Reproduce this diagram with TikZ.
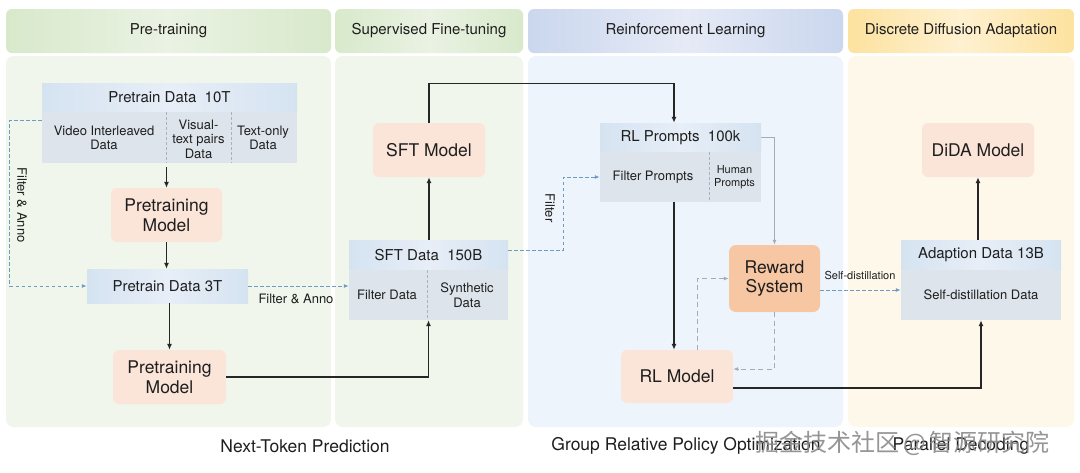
\documentclass[tikz,border=0pt]{standalone}
\usepackage{fontspec}
\setmainfont{TeX Gyre Heros}
\newfontfamily\cjkfont{Noto Sans CJK SC}
\usetikzlibrary{arrows.meta,calc}
\newcommand{\fsz}[2]{\fontsize{#1}{#2}\selectfont}
\definecolor{txt}{HTML}{1E1E1E}
\definecolor{pg1}{HTML}{D8E9CB}
\definecolor{pg2}{HTML}{EAF2E3}
\definecolor{rb1}{HTML}{CAD7EE}
\definecolor{rb2}{HTML}{E6EAF6}
\definecolor{dy1}{HTML}{FDE29F}
\definecolor{dy2}{HTML}{FEF1D0}
\definecolor{bodyg}{HTML}{F0F6EB}
\definecolor{bodyb}{HTML}{EEF4FC}
\definecolor{bodyy}{HTML}{FDF8EA}
\definecolor{modelc}{HTML}{FBE5D9}
\definecolor{rewc}{HTML}{F7C6A3}
\definecolor{dh1}{HTML}{D5E3F1}
\definecolor{dh2}{HTML}{E7EEF7}
\definecolor{dlowc}{HTML}{DEE4EC}
\definecolor{bdc}{HTML}{6E9BC6}
\definecolor{gdc}{HTML}{A8ABB0}
\definecolor{divc}{HTML}{A9B1BC}
\definecolor{wmc}{HTML}{8A8A8A}
\begin{document}
\begin{tikzpicture}[x=1pt,y=-1pt,
  every node/.style={text=txt, inner sep=0pt, align=center},
  hdr/.style={rounded corners=6pt, font=\fsz{15}{18}},
  modelbox/.style={fill=modelc, rounded corners=6pt, font=\fsz{17.5}{19.5}},
  dhead/.style={left color=dh1, right color=dh1, middle color=dh2, font=\fsz{15}{18}},
  dlow/.style={fill=dlowc},
  sub/.style={font=\fsz{13}{14.5}},
  arr/.style={draw=black!85, line width=1.2pt, -{Latex[length=6pt,width=5pt]}},
  bdash/.style={draw=bdc, line width=1pt, dash pattern=on 3.5pt off 2.5pt, -{Latex[length=5pt,width=4pt]}},
  gdash/.style={draw=gdc, line width=1pt, dash pattern=on 5pt off 3.5pt, -{Latex[length=5pt,width=4pt]}},
  garr/.style={draw=gdc, line width=1pt, -{Latex[length=5pt,width=4pt]}},
  divl/.style={draw=divc, line width=0.8pt, dash pattern=on 3pt off 2pt},
  captxt/.style={font=\fsz{17.5}{20}},
  lbl/.style={font=\fsz{13}{15}},
  slbl/.style={font=\fsz{11}{13}}
]
\useasboundingbox (0,0) rectangle (1080,472);
\fill[white] (0,0) rectangle (1080,472);

% panel bodies
\fill[bodyg, rounded corners=8pt] (6,56) rectangle (331,427);
\fill[bodyg, rounded corners=8pt] (335,56) rectangle (523,427);
\fill[bodyb, rounded corners=8pt] (528,56) rectangle (843,427);
\fill[bodyy, rounded corners=8pt] (848,56) rectangle (1074,427);

% headers
\node[hdr, left color=pg1, right color=pg1, middle color=pg2, minimum width=325, minimum height=44] (hpt) at (168.5,31) {Pre-training};
\node[hdr, left color=pg1, right color=pg1, middle color=pg2, minimum width=188, minimum height=44] (hsft) at (429,31) {Supervised Fine-tuning};
\node[hdr, left color=rb1, right color=rb1, middle color=rb2, minimum width=315, minimum height=44] (hrl) at (685.5,31) {Reinforcement Learning};
\node[hdr, left color=dy1, right color=dy1, middle color=dy2, minimum width=226, minimum height=44] (hdd) at (961,31) {Discrete Diffusion Adaptation};

% Pretrain Data 10T
\node[dhead, minimum width=255, minimum height=29] (p10h) at (169.5,97.5) {Pretrain Data\ \ 10T};
\node[dlow, minimum width=255, minimum height=51] (p10l) at (169.5,137.5) {};
\node[sub] (p10a) at (104,138) {Video Interleaved\\Data};
\node[sub] (p10b) at (198.5,139) {Visual-\\text pairs\\Data};
\node[sub] (p10c) at (263,138) {Text-only\\Data};
\draw[divl] (166,112) -- (166,163);
\draw[divl] (231,112) -- (231,163);

% models and data (pretraining)
\node[modelbox, minimum width=111, minimum height=54] (m1) at (166.5,215) {Pretraining\\Model};
\node[dhead, minimum width=161, minimum height=34] (p3) at (167.5,286) {Pretrain Data 3T};
\node[modelbox, minimum width=113, minimum height=54] (m2) at (169.5,377) {Pretraining\\Model};

% SFT
\node[modelbox, minimum width=112, minimum height=54] (sftm) at (429,150) {SFT Model};
\node[dhead, minimum width=159, minimum height=30] (sfth) at (428.5,255) {SFT Data\ \ 150B};
\node[dlow, minimum width=159, minimum height=50] (sftl) at (428.5,295) {};
\node[sub] (sfta) at (387,295) {Filter Data};
\node[sub] (sftb) at (467,295) {Synthetic\\Data};
\draw[divl] (427,270) -- (427,320);

% RL
\node[dhead, minimum width=161, minimum height=29] (rlh) at (680.5,137.5) {RL Prompts\ \ 100k};
\node[dlow, minimum width=161, minimum height=50] (rll) at (680.5,177) {};
\node[sub] (rla) at (653,177) {Filter Prompts};
\node[slbl] (rlb) at (734.5,177) {Human\\Prompts};
\draw[divl] (709,152) -- (709,202);
\node[fill=rewc, rounded corners=7pt, font=\fsz{17.5}{19.5}, minimum width=91, minimum height=67] (rew) at (774.5,278.5) {Reward\\System};
\node[modelbox, minimum width=112, minimum height=53] (rlm) at (677,376.5) {RL Model};

% DDA
\node[modelbox, minimum width=112, minimum height=54] (dida) at (978,150) {DiDA Model};
\node[dhead, minimum width=160, minimum height=30] (adh) at (981,255) {Adaption Data 13B};
\node[dlow, minimum width=160, minimum height=50] (adl) at (981,295) {};
\node[sub] (ada) at (981,295) {Self-distillation Data};

% connectors
\draw[arr, shorten <=4pt] (m1.north |- p10l.south) -- (m1.north);
\draw[arr] (m1.south) -- (m1.south |- p3.north);
\draw[arr] (m2.north |- p3.south) -- (m2.north);
\draw[arr] (m2.east) -| (sftl.south);
\draw[arr] (sftm.south |- sfth.north) -- (sftm.south);
\draw[arr] (sftm.north) -- ++(0,-39) -| ([xshift=-6.5pt]rlh.north);
\draw[arr] ([xshift=-6.5pt]rll.south) -- ([xshift=-6.5pt]rll.south |- rlm.north);
\draw[garr] (rlh.east) -| (rew.north);
\draw[gdash] ([xshift=20pt]rlm.north) |- (rew.west);
\draw[gdash] (rew.south) |- ([yshift=7.5pt]rlm.east);
\draw[arr] ([yshift=-11.5pt]rlm.east) -| (adl.south);
\draw[arr] (dida.south |- adh.north) -- (dida.south);

\draw[bdash] ([yshift=17.5pt]p10l.west) -- ++(-32,0) |- (p3.west);
\node[lbl, rotate=-90] (l1) at (22,205) {Filter \& Anno};
\draw[bdash] (p3.east) -- (p3.east -| sftl.west);
\node[lbl] (l2) at (296,299) {Filter \& Anno};
\draw[bdash] ([yshift=5pt]sfth.east) -- ++(55,0) |- (rll.west);
\node[lbl, rotate=-90] (l3) at (550,208) {Filter};
\draw[bdash] ([yshift=-11.5pt]rew.east) -- ([yshift=-11.5pt]rew.east -| adl.west);
\node[slbl] (l4) at (860,275) {Self-distillation};

% captions
\node[captxt] (c1) at (305,446) {Next-Token Prediction};
\node[captxt] (c2) at (686,446) {Group Relative Policy Optimization};
\node[captxt] (c3) at (961,446) {Parallel Decoding};
\node[anchor=west, font=\cjkfont\fsz{24}{26}, text=wmc, opacity=0.9] (wm) at (755,443) {掘金技术社区\,@\,智源研究院};
\end{tikzpicture}
\end{document}
